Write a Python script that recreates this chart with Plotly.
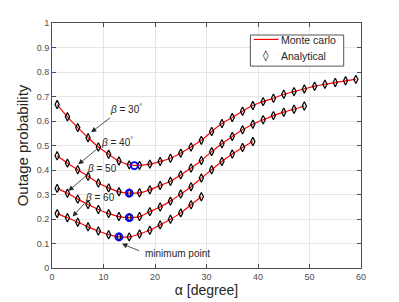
import plotly.graph_objects as go

# ---- data ----
alpha_30 = list(range(1, 60, 2))
p_30 = [0.667, 0.617, 0.573, 0.532, 0.494, 0.464, 0.437, 0.421, 0.419, 0.424,
        0.435, 0.448, 0.469, 0.494, 0.521, 0.557, 0.590, 0.614, 0.640, 0.663,
        0.679, 0.693, 0.709, 0.720, 0.731, 0.742, 0.750, 0.757, 0.764, 0.770]
alpha_40 = list(range(1, 50, 2))
p_40 = [0.458, 0.428, 0.401, 0.374, 0.347, 0.327, 0.311, 0.306, 0.307, 0.319,
        0.337, 0.354, 0.380, 0.408, 0.439, 0.475, 0.507, 0.537, 0.564, 0.587,
        0.605, 0.622, 0.636, 0.648, 0.661]
alpha_50 = list(range(1, 40, 2))
p_50 = [0.325, 0.305, 0.281, 0.259, 0.239, 0.222, 0.210, 0.206, 0.210, 0.230,
        0.249, 0.273, 0.302, 0.332, 0.367, 0.401, 0.435, 0.465, 0.492, 0.516]
alpha_60 = list(range(1, 30, 2))
p_60 = [0.222, 0.205, 0.187, 0.168, 0.151, 0.136, 0.127, 0.127, 0.139, 0.154,
        0.176, 0.199, 0.225, 0.258, 0.291]
min_alpha = [16, 15, 15, 13]
min_p = [0.418, 0.306, 0.206, 0.127]

x_ticks = [0, 10, 20, 30, 40, 50, 60]
x_tick_labels = ["0", "10", "20", "30", "40", "50", "60"]
y_ticks = [0, 0.1, 0.2, 0.3, 0.4, 0.5, 0.6, 0.7, 0.8, 0.9, 1]
y_tick_labels = ["0", "0.1", "0.2", "0.3", "0.4", "0.5", "0.6", "0.7", "0.8", "0.9", "1"]
legend_names = ["Monte carlo", "Analytical"]

series = [(alpha_30, p_30), (alpha_40, p_40), (alpha_50, p_50), (alpha_60, p_60)]

fig = go.Figure()
for i, (a, p) in enumerate(series):
    fig.add_trace(go.Scatter(x=a, y=p, mode="lines", line=dict(color="#ff0000", width=1.2, shape="spline"),
                             name=legend_names[0], showlegend=False))
for i, (a, p) in enumerate(series):
    fig.add_trace(go.Scatter(x=a, y=p, mode="markers",
                             marker=dict(symbol="diamond-tall-open", size=6, color="black",
                                         line=dict(width=1.2, color="black")),
                             name=legend_names[1], showlegend=False))
fig.add_trace(go.Scatter(x=min_alpha, y=min_p, mode="markers",
                         marker=dict(symbol="circle-open", size=7, color="#0000ff",
                                     line=dict(width=1.8, color="#0000ff")),
                         showlegend=False))

font_fam = "Liberation Sans, Arial, sans-serif"
txt_col = "#262626"
ann = []
labels = [("<i>β</i> = 30<sup>°</sup>", 14.4, 0.648), ("<i>β</i> = 40<sup>°</sup>", 12.7, 0.515),
          ("<i>β</i> = 50", 9.8, 0.405), ("<i>β</i> = 60", 9.4, 0.287), ("minimum point", 24.4, 0.061)]
for t, x, y in labels:
    ann.append(dict(x=x, y=y, text=t, showarrow=False, xref="x", yref="y",
                    font=dict(size=10, color=txt_col, family=font_fam)))
arrows = [(7.6, 0.554, 11.6, 0.618), (5.1, 0.423, 9.0, 0.49), (3.2, 0.315, 7.4, 0.39),
          (4.0, 0.21, 6.5, 0.268), (13.6, 0.099, 17.2, 0.068)]
for hx, hy, tx, ty in arrows:
    ann.append(dict(x=hx, y=hy, ax=tx, ay=ty, xref="x", yref="y", axref="x", ayref="y",
                    text="", showarrow=True, arrowhead=2, arrowsize=1.3, arrowwidth=0.8,
                    arrowcolor=txt_col))

# custom legend (paper coords)
shapes = [
    dict(type="rect", xref="paper", yref="paper", x0=0.642, x1=0.944, y0=0.824, y1=0.951,
         line=dict(color="#555555", width=1), fillcolor="white", layer="above"),
    dict(type="line", xref="paper", yref="paper", x0=0.653, x1=0.733, y0=0.933, y1=0.933,
         line=dict(color="#ff0000", width=1.2), layer="above"),
]
ann.append(dict(x=0.736, y=0.931, xref="paper", yref="paper", text=legend_names[0], showarrow=False,
                xanchor="left", yanchor="middle", font=dict(size=10.5, color=txt_col, family=font_fam)))
ann.append(dict(x=0.736, y=0.865, xref="paper", yref="paper", text=legend_names[1], showarrow=False,
                xanchor="left", yanchor="middle", font=dict(size=10.5, color=txt_col, family=font_fam)))
ann.append(dict(x=0.693, y=0.867, xref="paper", yref="paper", text="◊", showarrow=False,
                xanchor="center", yanchor="middle", font=dict(size=11, color="black", family="DejaVu Sans")))

axis_common = dict(showgrid=True, gridcolor="#e6e6e6", gridwidth=1, showline=True, linecolor="#4d4d4d",
                   linewidth=1, mirror="ticks", ticks="inside", ticklen=4, tickcolor="#4d4d4d",
                   tickfont=dict(size=9, color="#4d4d4d", family=font_fam), zeroline=False,
                   automargin=False)

fig.update_layout(
    width=391, height=294,
    margin=dict(l=44, r=38, t=15, b=34),
    paper_bgcolor="white", plot_bgcolor="white",
    font=dict(family=font_fam),
    xaxis=dict(range=[0, 60], tickvals=x_ticks, ticktext=x_tick_labels,
               title=dict(text="α [degree]", font=dict(size=14, color=txt_col), standoff=3), **axis_common),
    yaxis=dict(range=[0, 1], tickvals=y_ticks, ticktext=y_tick_labels,
               title=dict(text="Outage probability", font=dict(size=15, color=txt_col), standoff=4),
               **axis_common),
    annotations=ann,
    shapes=shapes,
    showlegend=False,
)
fig.write_html("out.html")
